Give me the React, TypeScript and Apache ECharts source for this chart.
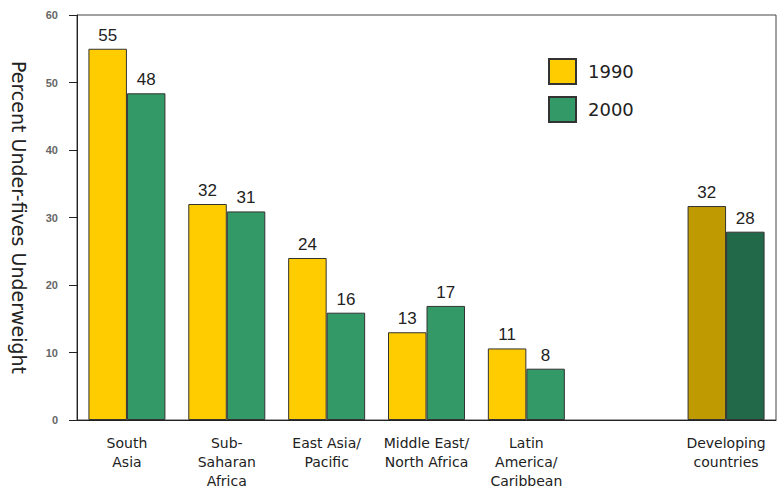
import React, { useEffect, useRef } from "react";
import * as echarts from "echarts";

const categories = [
  "South\nAsia",
  "Sub-\nSaharan\nAfrica",
  "East Asia/\nPacific",
  "Middle East/\nNorth Africa",
  "Latin\nAmerica/\nCaribbean",
  "",
  "Developing\ncountries",
];
const values1990: (number | null)[] = [55, 32, 24, 13, 10.6, null, 31.7];
const values2000: (number | null)[] = [48.4, 30.9, 15.9, 16.9, 7.6, null, 27.9];
const yTicks = [0, 10, 20, 30, 40, 50, 60];

const C1990 = "#FFCC00";
const C2000 = "#339966";
const C1990dev = "#BF9A00";
const C2000dev = "#22694A";

export default function App() {
  const ref = useRef<HTMLDivElement>(null);
  useEffect(() => {
    if (!ref.current) return;
    const chart = echarts.init(ref.current, undefined, { renderer: "svg" });
    const devIdx = categories.length - 1;
    const mk = (vals: (number | null)[], cdev: string) =>
      vals.map((v, i) =>
        i === devIdx ? { value: v, itemStyle: { color: cdev } } : { value: v }
      );
    const label = {
      show: true,
      position: "top" as const,
      distance: 5,
      fontFamily: "Liberation Sans, Arial, sans-serif",
      fontSize: 17,
      color: "#222",
      formatter: (p: any) => String(Math.round(p.value)),
    };
    chart.setOption({
      animation: false,
      backgroundColor: "#fff",
      grid: {
        left: 77,
        right: 3,
        top: 15,
        bottom: 71,
        containLabel: false,
        outerBoundsMode: "none",
        show: true,
        borderColor: "#444",
        borderWidth: 1,
      },
      legend: {
        orient: "vertical",
        left: 548,
        top: 58,
        padding: 0,
        itemWidth: 27,
        itemHeight: 25,
        itemGap: 11,
        icon: "rect",
        textStyle: {
          fontFamily: "DejaVu Sans, sans-serif",
          fontSize: 18,
          color: "#222",
          padding: [0, 0, 0, 7],
        },
        data: ["1990", "2000"],
      },
      xAxis: {
        type: "category",
        data: categories,
        axisLine: { show: true, lineStyle: { color: "#222", width: 1 } },
        axisTick: { show: false },
        axisLabel: {
          interval: 0,
          margin: 13,
          fontFamily: "DejaVu Sans, sans-serif",
          fontSize: 14,
          lineHeight: 19,
          color: "#222",
        },
      },
      yAxis: {
        type: "value",
        min: 0,
        max: 60,
        interval: 10,
        name: "Percent Under-fives Underweight",
        nameLocation: "middle",
        nameRotate: -90,
        nameGap: 49,
        nameTextStyle: {
          fontFamily: "DejaVu Sans, sans-serif",
          fontSize: 19,
          color: "#222",
        },
        axisLine: { show: true, lineStyle: { color: "#222", width: 1 } },
        axisTick: { show: true, length: 8, lineStyle: { color: "#222" } },
        splitLine: { show: false },
        axisLabel: {
          margin: 19,
          fontFamily: "Liberation Sans, Arial, sans-serif",
          fontSize: 11,
          fontWeight: "bold",
          color: "#666",
          formatter: (v: number) => (yTicks.includes(v) ? String(v) : ""),
        },
      },
      series: [
        {
          name: "1990",
          type: "bar",
          barWidth: 38.5,
          barGap: "0%",
          data: mk(values1990, C1990dev),
          itemStyle: { color: C1990, borderColor: "#333", borderWidth: 1 },
          label,
        },
        {
          name: "2000",
          type: "bar",
          barWidth: 38.5,
          barGap: "0%",
          data: mk(values2000, C2000dev),
          itemStyle: { color: C2000, borderColor: "#333", borderWidth: 1 },
          label,
        },
      ],
    });
    return () => chart.dispose();
  }, []);
  return (
    <div
      ref={ref}
      style={{ width: 779, height: 491, position: "absolute", left: 0, top: 0 }}
    />
  );
}
